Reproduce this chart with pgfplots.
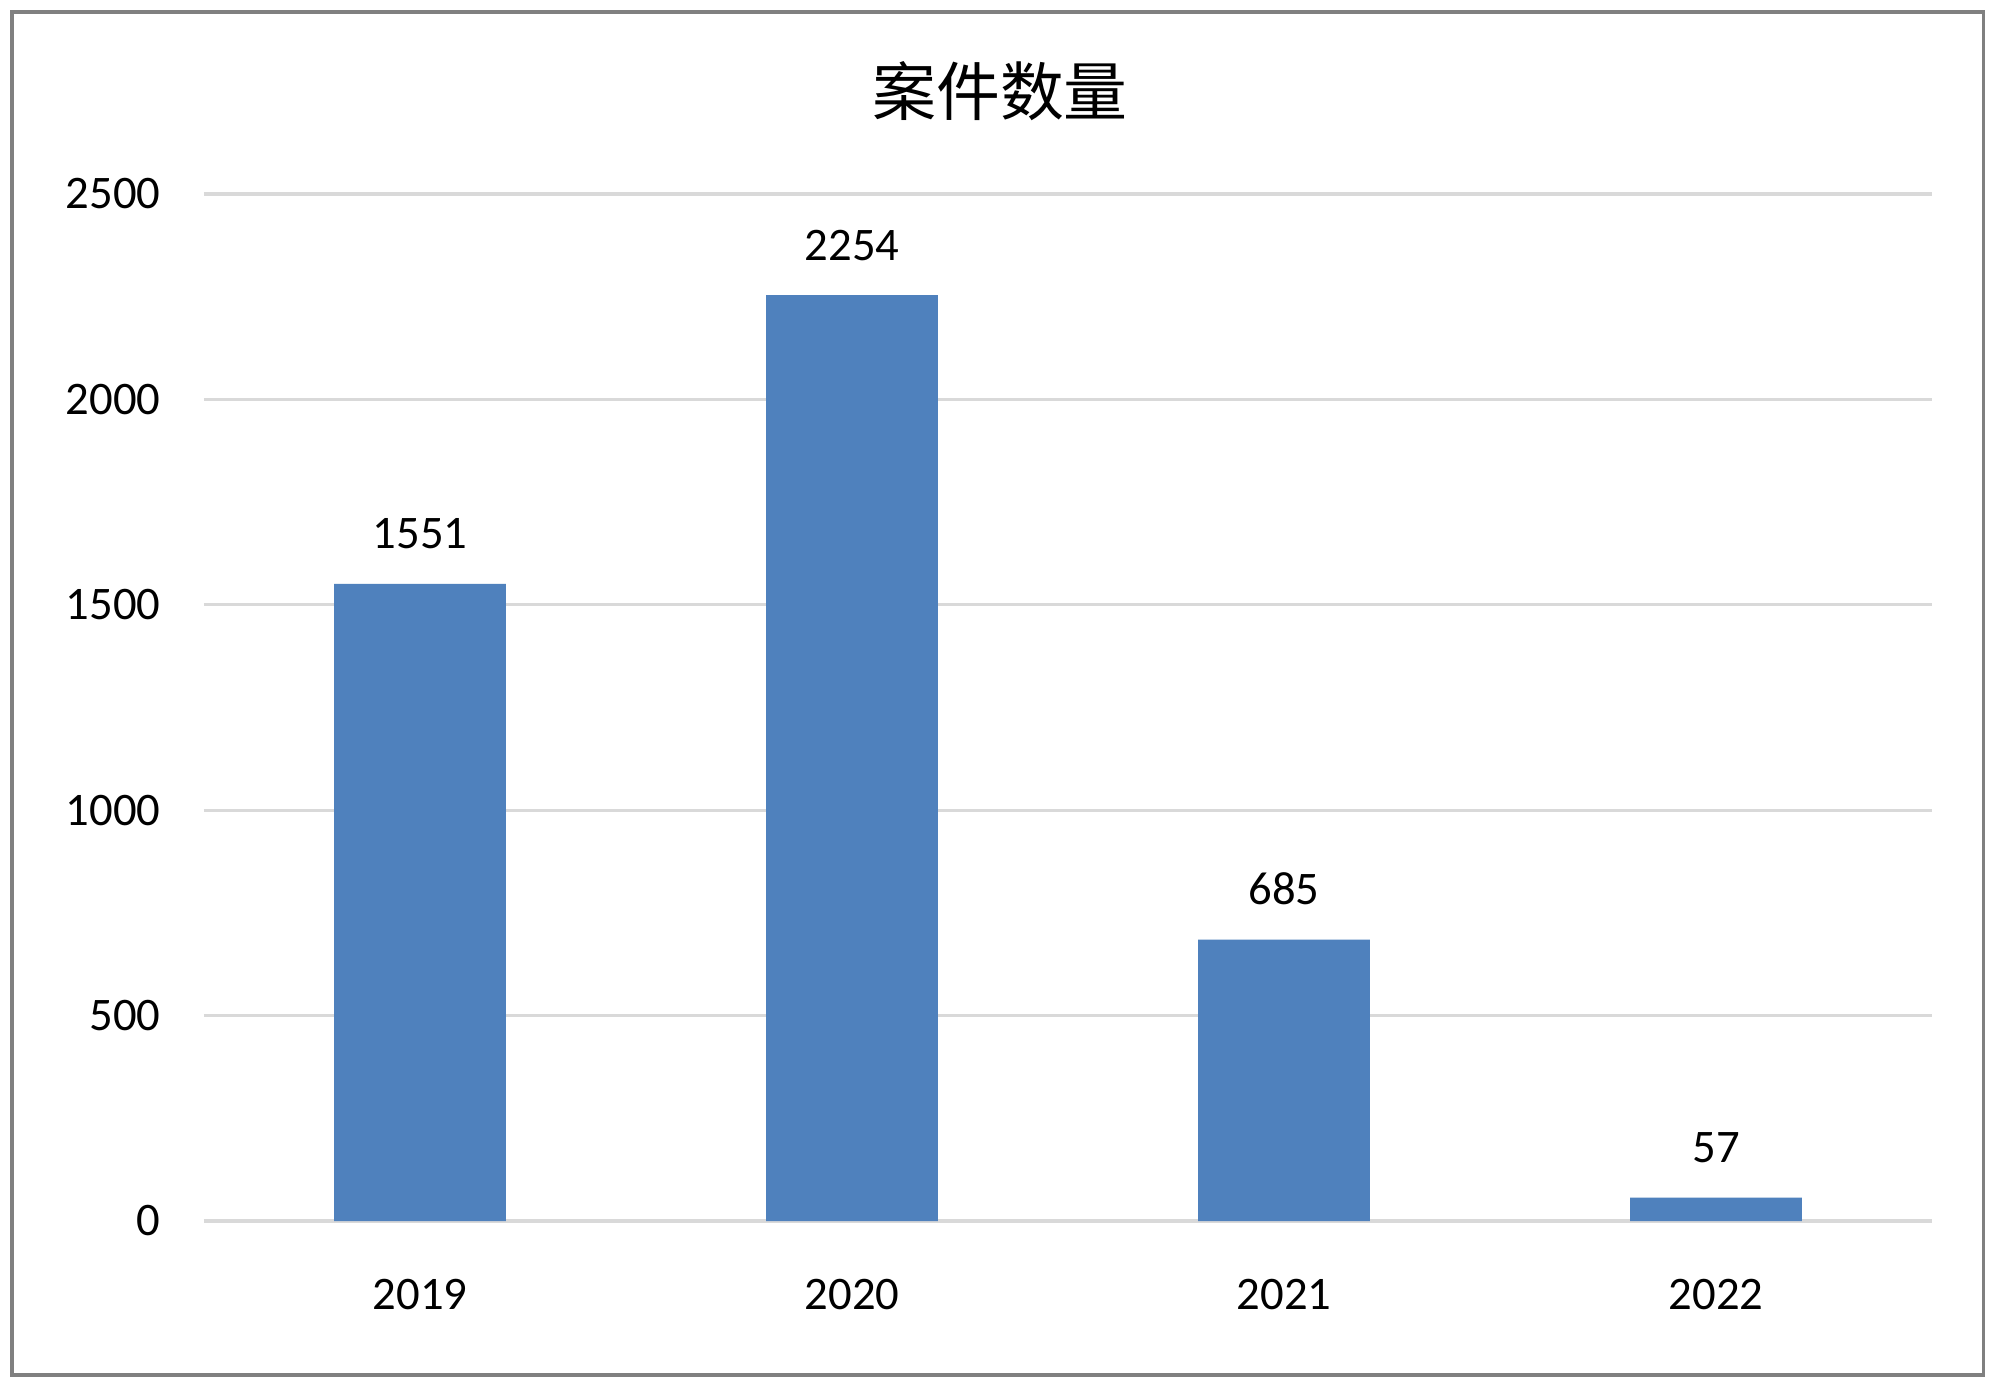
\documentclass[border=0pt]{standalone}
\usepackage{fontspec}
\setmainfont{Carlito}
\newfontfamily\cjk{Noto Sans CJK SC}
\usepackage{pgfplots}
\pgfplotsset{compat=1.18}
\definecolor{barblue}{RGB}{79,129,189}
\definecolor{gridgray}{RGB}{217,217,217}
\definecolor{framegray}{RGB}{128,128,128}

\begin{document}
\begin{tikzpicture}[x=0.36pt,y=0.36pt]
\useasboundingbox (0,0) rectangle (2000,1390);
\fill[white] (0,0) rectangle (2000,1390);
% outer chart frame
\draw[framegray,line width=1.1pt] (12,15) rectangle (1983,1378);

\begin{axis}[
    at={(73.44pt,60.84pt)}, anchor=south west,
    scale only axis,
    width=622.08pt, height=369.72pt,
    xmin=-0.5, xmax=3.5,
    ymin=0, ymax=2500,
    ytick={0,500,1000,1500,2000,2500},
    xtick=data,
    xticklabels={2019,2020,2021,2022},
    axis line style={draw=none},
    major tick length=0pt,
    ymajorgrids,
    grid style={gridgray,line width=1.1pt},
    /pgf/number format/assume math mode=true,
    /pgf/number format/1000 sep={},
    tick label style={font=\fontsize{16.8}{18}\selectfont, inner sep=0pt},
    yticklabel style={anchor=east, xshift=-15.5pt},
    xticklabel style={anchor=base, yshift=-32pt},
    ybar, bar width=61.9pt,
    nodes near coords,
    nodes near coords style={font=\fontsize{16.8}{18}\selectfont, anchor=base,
        inner sep=0pt, yshift=12.6pt, /pgf/number format/1000 sep={}},
]
\addplot[fill=barblue, draw=none] coordinates {
    (0,1551) (1,2254) (2,685) (3,57)
};
\end{axis}

\node[font=\cjk\fontsize{23}{26}\selectfont] at (1000,1299) {案件数量};
\end{tikzpicture}
\end{document}
